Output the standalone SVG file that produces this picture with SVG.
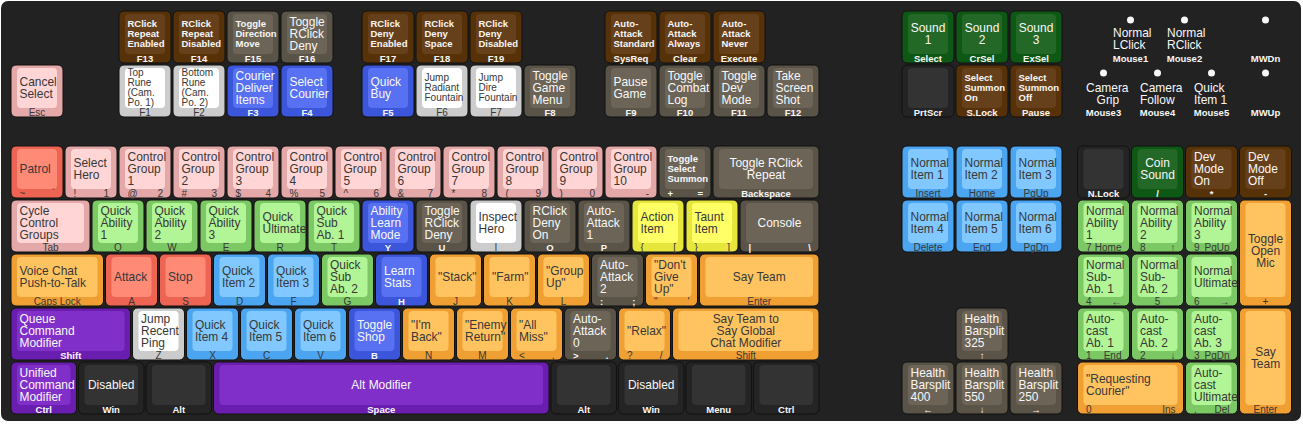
<svg xmlns="http://www.w3.org/2000/svg" width="1303" height="425" viewBox="0 0 1303 425">
<style>
text{font-family:"Liberation Sans",Arial,Helvetica,sans-serif}
.o{stroke:#111;stroke-width:1}
.a{font-size:13px}
.L{transform:translate(8.5px,0px) scale(0.92,1)}
.b{font-size:10px}
.f{font-size:10px}
.c{text-anchor:middle}
.e{text-anchor:end}
.D text{fill:#383838}
.W text{fill:#f7f7f7}
.W .b,.W .f{font-weight:bold;font-size:9.5px}
.dot{fill:#f7f7f7}
.pink .o{fill:#e5a8a8}.pink .t{fill:#ffd5d5}
.red .o{fill:#ee6452}.red .t{fill:#ff8a76}
.brown .o{fill:#573208}.brown .t{fill:#66401a}
.gb .o{fill:#5a5448}.gb .t{fill:#6c6557}
.white .o{fill:#cccccc}.white .t{fill:#ffffff}
.blue .o{fill:#3b56da}.blue .t{fill:#5870f2}
.sg .o{fill:#0c5814}.sg .t{fill:#246828}
.dark .o{fill:#242424}.dark .t{fill:#333333}
.lg .o{fill:#7cc864}.lg .t{fill:#b2f596}
.lb .o{fill:#4ba5f0}.lb .t{fill:#80c8ff}
.or .o{fill:#f0a032}.or .t{fill:#ffc460}
.ye .o{fill:#e6e63c}.ye .t{fill:#ffff66}
.pu .o{fill:#6a1eb0}.pu .t{fill:#8030c8}
</style>
<rect id="board" x="1" y="1" width="1300" height="420" rx="7" fill="#222222"/>

<!-- Row A -->
<g id="k-f13" class="brown W" transform="translate(119,11)"><rect class="o" width="52" height="52" rx="5"/><rect class="t" x="6" y="3" width="40" height="40" rx="4"/><text class="b"><tspan x="8.5" y="16">RClick</tspan><tspan x="8.5" y="26">Repeat</tspan><tspan x="8.5" y="36">Enabled</tspan></text><text class="f c" x="26" y="50.5">F13</text></g>
<g id="k-f14" class="brown W" transform="translate(173,11)"><rect class="o" width="52" height="52" rx="5"/><rect class="t" x="6" y="3" width="40" height="40" rx="4"/><text class="b"><tspan x="8.5" y="16">RClick</tspan><tspan x="8.5" y="26">Repeat</tspan><tspan x="8.5" y="36">Disabled</tspan></text><text class="f c" x="26" y="50.5">F14</text></g>
<g id="k-f15" class="gb W" transform="translate(227,11)"><rect class="o" width="52" height="52" rx="5"/><rect class="t" x="6" y="3" width="40" height="40" rx="4"/><text class="b"><tspan x="8.5" y="16">Toggle</tspan><tspan x="8.5" y="26">Direction</tspan><tspan x="8.5" y="36">Move</tspan></text><text class="f c" x="26" y="50.5">F15</text></g>
<g id="k-f16" class="gb W" transform="translate(281,11)"><rect class="o" width="52" height="52" rx="5"/><rect class="t" x="6" y="3" width="40" height="40" rx="4"/><text class="a L"><tspan x="0" y="15">Toggle</tspan><tspan x="0" y="27">RClick</tspan><tspan x="0" y="39">Deny</tspan></text><text class="f c" x="26" y="50.5">F16</text></g>
<g id="k-f17" class="brown W" transform="translate(362,11)"><rect class="o" width="52" height="52" rx="5"/><rect class="t" x="6" y="3" width="40" height="40" rx="4"/><text class="b"><tspan x="8.5" y="16">RClick</tspan><tspan x="8.5" y="26">Deny</tspan><tspan x="8.5" y="36">Enabled</tspan></text><text class="f c" x="26" y="50.5">F17</text></g>
<g id="k-f18" class="brown W" transform="translate(416,11)"><rect class="o" width="52" height="52" rx="5"/><rect class="t" x="6" y="3" width="40" height="40" rx="4"/><text class="b"><tspan x="8.5" y="16">RClick</tspan><tspan x="8.5" y="26">Deny</tspan><tspan x="8.5" y="36">Space</tspan></text><text class="f c" x="26" y="50.5">F18</text></g>
<g id="k-f19" class="brown W" transform="translate(470,11)"><rect class="o" width="52" height="52" rx="5"/><rect class="t" x="6" y="3" width="40" height="40" rx="4"/><text class="b"><tspan x="8.5" y="16">RClick</tspan><tspan x="8.5" y="26">Deny</tspan><tspan x="8.5" y="36">Disabled</tspan></text><text class="f c" x="26" y="50.5">F19</text></g>
<g id="k-sysreq" class="brown W" transform="translate(605,11)"><rect class="o" width="52" height="52" rx="5"/><rect class="t" x="6" y="3" width="40" height="40" rx="4"/><text class="b"><tspan x="8.5" y="16">Auto-</tspan><tspan x="8.5" y="26">Attack</tspan><tspan x="8.5" y="36">Standard</tspan></text><text class="f c" x="26" y="50.5">SysReq</text></g>
<g id="k-clear" class="brown W" transform="translate(659,11)"><rect class="o" width="52" height="52" rx="5"/><rect class="t" x="6" y="3" width="40" height="40" rx="4"/><text class="b"><tspan x="8.5" y="16">Auto-</tspan><tspan x="8.5" y="26">Attack</tspan><tspan x="8.5" y="36">Always</tspan></text><text class="f c" x="26" y="50.5">Clear</text></g>
<g id="k-execute" class="brown W" transform="translate(713,11)"><rect class="o" width="52" height="52" rx="5"/><rect class="t" x="6" y="3" width="40" height="40" rx="4"/><text class="b"><tspan x="8.5" y="16">Auto-</tspan><tspan x="8.5" y="26">Attack</tspan><tspan x="8.5" y="36">Never</tspan></text><text class="f c" x="26" y="50.5">Execute</text></g>
<g id="k-select" class="sg W" transform="translate(902,11)"><rect class="o" width="52" height="52" rx="5"/><rect class="t" x="6" y="3" width="40" height="40" rx="4"/><text class="a c" transform="translate(26,0) scale(0.92,1)"><tspan x="0" y="21">Sound</tspan><tspan x="0" y="33">1</tspan></text><text class="f c" x="26" y="50.5">Select</text></g>
<g id="k-crsel" class="sg W" transform="translate(956,11)"><rect class="o" width="52" height="52" rx="5"/><rect class="t" x="6" y="3" width="40" height="40" rx="4"/><text class="a c" transform="translate(26,0) scale(0.92,1)"><tspan x="0" y="21">Sound</tspan><tspan x="0" y="33">2</tspan></text><text class="f c" x="26" y="50.5">CrSel</text></g>
<g id="k-exsel" class="sg W" transform="translate(1010,11)"><rect class="o" width="52" height="52" rx="5"/><rect class="t" x="6" y="3" width="40" height="40" rx="4"/><text class="a c" transform="translate(26,0) scale(0.92,1)"><tspan x="0" y="21">Sound</tspan><tspan x="0" y="33">3</tspan></text><text class="f c" x="26" y="50.5">ExSel</text></g>
<g id="m-mouse1" class="W" transform="translate(1104.5,11)"><circle class="dot" cx="26" cy="9" r="3.5"/><text class="a L"><tspan x="0" y="26.5">Normal</tspan><tspan x="0" y="38.5">LClick</tspan></text><text class="f c" x="26" y="50.5">Mouse1</text></g>
<g id="m-mouse2" class="W" transform="translate(1158.5,11)"><circle class="dot" cx="26" cy="9" r="3.5"/><text class="a L"><tspan x="0" y="26.5">Normal</tspan><tspan x="0" y="38.5">RClick</tspan></text><text class="f c" x="26" y="50.5">Mouse2</text></g>
<g id="m-mwdn" class="W" transform="translate(1239.5,11)"><circle class="dot" cx="26" cy="9" r="3.5"/><text class="f c" x="26" y="50.5">MWDn</text></g>

<!-- Row B -->
<g id="k-esc" class="pink D" transform="translate(11,65)"><rect class="o" width="52" height="52" rx="5"/><rect class="t" x="6" y="3" width="40" height="40" rx="4"/><text class="a L"><tspan x="0" y="21">Cancel</tspan><tspan x="0" y="33">Select</tspan></text><text class="f c" x="26" y="50.5">Esc</text></g>
<g id="k-f1" class="white D" transform="translate(119,65)"><rect class="o" width="52" height="52" rx="5"/><rect class="t" x="6" y="3" width="40" height="40" rx="4"/><text class="b"><tspan x="8.5" y="11">Top</tspan><tspan x="8.5" y="21">Rune</tspan><tspan x="8.5" y="31">(Cam.</tspan><tspan x="8.5" y="41">Po. 1)</tspan></text><text class="f c" x="26" y="50.5">F1</text></g>
<g id="k-f2" class="white D" transform="translate(173,65)"><rect class="o" width="52" height="52" rx="5"/><rect class="t" x="6" y="3" width="40" height="40" rx="4"/><text class="b"><tspan x="8.5" y="11">Bottom</tspan><tspan x="8.5" y="21">Rune</tspan><tspan x="8.5" y="31">(Cam.</tspan><tspan x="8.5" y="41">Po. 2)</tspan></text><text class="f c" x="26" y="50.5">F2</text></g>
<g id="k-f3" class="blue W" transform="translate(227,65)"><rect class="o" width="52" height="52" rx="5"/><rect class="t" x="6" y="3" width="40" height="40" rx="4"/><text class="a L"><tspan x="0" y="15">Courier</tspan><tspan x="0" y="27">Deliver</tspan><tspan x="0" y="39">Items</tspan></text><text class="f c" x="26" y="50.5">F3</text></g>
<g id="k-f4" class="blue W" transform="translate(281,65)"><rect class="o" width="52" height="52" rx="5"/><rect class="t" x="6" y="3" width="40" height="40" rx="4"/><text class="a L"><tspan x="0" y="21">Select</tspan><tspan x="0" y="33">Courier</tspan></text><text class="f c" x="26" y="50.5">F4</text></g>
<g id="k-f5" class="blue W" transform="translate(362,65)"><rect class="o" width="52" height="52" rx="5"/><rect class="t" x="6" y="3" width="40" height="40" rx="4"/><text class="a L"><tspan x="0" y="21">Quick</tspan><tspan x="0" y="33">Buy</tspan></text><text class="f c" x="26" y="50.5">F5</text></g>
<g id="k-f6" class="white D" transform="translate(416,65)"><rect class="o" width="52" height="52" rx="5"/><rect class="t" x="6" y="3" width="40" height="40" rx="4"/><text class="b"><tspan x="8.5" y="16">Jump</tspan><tspan x="8.5" y="26">Radiant</tspan><tspan x="8.5" y="36">Fountain</tspan></text><text class="f c" x="26" y="50.5">F6</text></g>
<g id="k-f7" class="white D" transform="translate(470,65)"><rect class="o" width="52" height="52" rx="5"/><rect class="t" x="6" y="3" width="40" height="40" rx="4"/><text class="b"><tspan x="8.5" y="16">Jump</tspan><tspan x="8.5" y="26">Dire</tspan><tspan x="8.5" y="36">Fountain</tspan></text><text class="f c" x="26" y="50.5">F7</text></g>
<g id="k-f8" class="gb W" transform="translate(524,65)"><rect class="o" width="52" height="52" rx="5"/><rect class="t" x="6" y="3" width="40" height="40" rx="4"/><text class="a L"><tspan x="0" y="15">Toggle</tspan><tspan x="0" y="27">Game</tspan><tspan x="0" y="39">Menu</tspan></text><text class="f c" x="26" y="50.5">F8</text></g>
<g id="k-f9" class="gb W" transform="translate(605,65)"><rect class="o" width="52" height="52" rx="5"/><rect class="t" x="6" y="3" width="40" height="40" rx="4"/><text class="a L"><tspan x="0" y="21">Pause</tspan><tspan x="0" y="33">Game</tspan></text><text class="f c" x="26" y="50.5">F9</text></g>
<g id="k-f10" class="gb W" transform="translate(659,65)"><rect class="o" width="52" height="52" rx="5"/><rect class="t" x="6" y="3" width="40" height="40" rx="4"/><text class="a L"><tspan x="0" y="15">Toggle</tspan><tspan x="0" y="27">Combat</tspan><tspan x="0" y="39">Log</tspan></text><text class="f c" x="26" y="50.5">F10</text></g>
<g id="k-f11" class="gb W" transform="translate(713,65)"><rect class="o" width="52" height="52" rx="5"/><rect class="t" x="6" y="3" width="40" height="40" rx="4"/><text class="a L"><tspan x="0" y="15">Toggle</tspan><tspan x="0" y="27">Dev</tspan><tspan x="0" y="39">Mode</tspan></text><text class="f c" x="26" y="50.5">F11</text></g>
<g id="k-f12" class="gb W" transform="translate(767,65)"><rect class="o" width="52" height="52" rx="5"/><rect class="t" x="6" y="3" width="40" height="40" rx="4"/><text class="a L"><tspan x="0" y="15">Take</tspan><tspan x="0" y="27">Screen</tspan><tspan x="0" y="39">Shot</tspan></text><text class="f c" x="26" y="50.5">F12</text></g>
<g id="k-prtscr" class="dark W" transform="translate(902,65)"><rect class="o" width="52" height="52" rx="5"/><rect class="t" x="6" y="3" width="40" height="40" rx="4"/><text class="f c" x="26" y="50.5">PrtScr</text></g>
<g id="k-slock" class="brown W" transform="translate(956,65)"><rect class="o" width="52" height="52" rx="5"/><rect class="t" x="6" y="3" width="40" height="40" rx="4"/><text class="b"><tspan x="8.5" y="16">Select</tspan><tspan x="8.5" y="26">Summon</tspan><tspan x="8.5" y="36">On</tspan></text><text class="f c" x="26" y="50.5">S.Lock</text></g>
<g id="k-pause" class="brown W" transform="translate(1010,65)"><rect class="o" width="52" height="52" rx="5"/><rect class="t" x="6" y="3" width="40" height="40" rx="4"/><text class="b"><tspan x="8.5" y="16">Select</tspan><tspan x="8.5" y="26">Summon</tspan><tspan x="8.5" y="36">Off</tspan></text><text class="f c" x="26" y="50.5">Pause</text></g>
<g id="m-mouse3" class="W" transform="translate(1077.5,65)"><circle class="dot" cx="26" cy="8" r="3.5"/><text class="a L"><tspan x="0" y="26.8">Camera</tspan><tspan x="11.5" y="38.8">Grip</tspan></text><text class="f c" x="26" y="50.5">Mouse3</text></g>
<g id="m-mouse4" class="W" transform="translate(1131.5,65)"><circle class="dot" cx="26" cy="8" r="3.5"/><text class="a L"><tspan x="0" y="26.8">Camera</tspan><tspan x="0" y="38.8">Follow</tspan></text><text class="f c" x="26" y="50.5">Mouse4</text></g>
<g id="m-mouse5" class="W" transform="translate(1185.5,65)"><circle class="dot" cx="26" cy="8" r="3.5"/><text class="a L"><tspan x="0" y="26.8">Quick</tspan><tspan x="0" y="38.8">Item 1</tspan></text><text class="f c" x="26" y="50.5">Mouse5</text></g>
<g id="m-mwup" class="W" transform="translate(1239.5,65)"><circle class="dot" cx="26" cy="8" r="3.5"/><text class="f c" x="26" y="50.5">MWUp</text></g>

<!-- Row C -->
<g id="k-grave" class="red D" transform="translate(11,146)"><rect class="o" width="52" height="52" rx="5"/><rect class="t" x="6" y="3" width="40" height="40" rx="4"/><text class="a L" x="0" y="27">Patrol</text><text class="f" x="8.5" y="50.5">~</text><text class="f e" x="44" y="50.5">`</text></g>
<g id="k-1" class="pink D" transform="translate(65,146)"><rect class="o" width="52" height="52" rx="5"/><rect class="t" x="6" y="3" width="40" height="40" rx="4"/><text class="a L"><tspan x="0" y="21">Select</tspan><tspan x="0" y="33">Hero</tspan></text><text class="f" x="8.5" y="50.5">!</text><text class="f e" x="44" y="50.5">1</text></g>
<g id="k-2" class="pink D" transform="translate(119,146)"><rect class="o" width="52" height="52" rx="5"/><rect class="t" x="6" y="3" width="40" height="40" rx="4"/><text class="a L"><tspan x="0" y="15">Control</tspan><tspan x="0" y="27">Group</tspan><tspan x="0" y="39">1</tspan></text><text class="f" x="8.5" y="50.5">@</text><text class="f e" x="44" y="50.5">2</text></g>
<g id="k-3" class="pink D" transform="translate(173,146)"><rect class="o" width="52" height="52" rx="5"/><rect class="t" x="6" y="3" width="40" height="40" rx="4"/><text class="a L"><tspan x="0" y="15">Control</tspan><tspan x="0" y="27">Group</tspan><tspan x="0" y="39">2</tspan></text><text class="f" x="8.5" y="50.5">#</text><text class="f e" x="44" y="50.5">3</text></g>
<g id="k-4" class="pink D" transform="translate(227,146)"><rect class="o" width="52" height="52" rx="5"/><rect class="t" x="6" y="3" width="40" height="40" rx="4"/><text class="a L"><tspan x="0" y="15">Control</tspan><tspan x="0" y="27">Group</tspan><tspan x="0" y="39">3</tspan></text><text class="f" x="8.5" y="50.5">$</text><text class="f e" x="44" y="50.5">4</text></g>
<g id="k-5" class="pink D" transform="translate(281,146)"><rect class="o" width="52" height="52" rx="5"/><rect class="t" x="6" y="3" width="40" height="40" rx="4"/><text class="a L"><tspan x="0" y="15">Control</tspan><tspan x="0" y="27">Group</tspan><tspan x="0" y="39">4</tspan></text><text class="f" x="8.5" y="50.5">%</text><text class="f e" x="44" y="50.5">5</text></g>
<g id="k-6" class="pink D" transform="translate(335,146)"><rect class="o" width="52" height="52" rx="5"/><rect class="t" x="6" y="3" width="40" height="40" rx="4"/><text class="a L"><tspan x="0" y="15">Control</tspan><tspan x="0" y="27">Group</tspan><tspan x="0" y="39">5</tspan></text><text class="f" x="8.5" y="50.5">^</text><text class="f e" x="44" y="50.5">6</text></g>
<g id="k-7" class="pink D" transform="translate(389,146)"><rect class="o" width="52" height="52" rx="5"/><rect class="t" x="6" y="3" width="40" height="40" rx="4"/><text class="a L"><tspan x="0" y="15">Control</tspan><tspan x="0" y="27">Group</tspan><tspan x="0" y="39">6</tspan></text><text class="f" x="8.5" y="50.5">&amp;</text><text class="f e" x="44" y="50.5">7</text></g>
<g id="k-8" class="pink D" transform="translate(443,146)"><rect class="o" width="52" height="52" rx="5"/><rect class="t" x="6" y="3" width="40" height="40" rx="4"/><text class="a L"><tspan x="0" y="15">Control</tspan><tspan x="0" y="27">Group</tspan><tspan x="0" y="39">7</tspan></text><text class="f" x="8.5" y="50.5">*</text><text class="f e" x="44" y="50.5">8</text></g>
<g id="k-9" class="pink D" transform="translate(497,146)"><rect class="o" width="52" height="52" rx="5"/><rect class="t" x="6" y="3" width="40" height="40" rx="4"/><text class="a L"><tspan x="0" y="15">Control</tspan><tspan x="0" y="27">Group</tspan><tspan x="0" y="39">8</tspan></text><text class="f" x="8.5" y="50.5">(</text><text class="f e" x="44" y="50.5">9</text></g>
<g id="k-0" class="pink D" transform="translate(551,146)"><rect class="o" width="52" height="52" rx="5"/><rect class="t" x="6" y="3" width="40" height="40" rx="4"/><text class="a L"><tspan x="0" y="15">Control</tspan><tspan x="0" y="27">Group</tspan><tspan x="0" y="39">9</tspan></text><text class="f" x="8.5" y="50.5">)</text><text class="f e" x="44" y="50.5">0</text></g>
<g id="k-minus" class="pink D" transform="translate(605,146)"><rect class="o" width="52" height="52" rx="5"/><rect class="t" x="6" y="3" width="40" height="40" rx="4"/><text class="a L"><tspan x="0" y="15">Control</tspan><tspan x="0" y="27">Group</tspan><tspan x="0" y="39">10</tspan></text><text class="f e" x="44" y="50.5">-</text></g>
<g id="k-equal" class="gb W" transform="translate(659,146)"><rect class="o" width="52" height="52" rx="5"/><rect class="t" x="6" y="3" width="40" height="40" rx="4"/><text class="b"><tspan x="8.5" y="16">Toggle</tspan><tspan x="8.5" y="26">Select</tspan><tspan x="8.5" y="36">Summon</tspan></text><text class="f" x="8.5" y="50.5">+</text><text class="f e" x="44" y="50.5">=</text></g>
<g id="k-backspace" class="gb W" transform="translate(713,146)"><rect class="o" width="106" height="52" rx="5"/><rect class="t" x="6" y="3" width="94" height="40" rx="4"/><text class="a c" transform="translate(53,0) scale(0.92,1)"><tspan x="0" y="21">Toggle RClick</tspan><tspan x="0" y="33">Repeat</tspan></text><text class="f c" x="53" y="50.5">Backspace</text></g>
<g id="k-insert" class="lb D" transform="translate(902,146)"><rect class="o" width="52" height="52" rx="5"/><rect class="t" x="6" y="3" width="40" height="40" rx="4"/><text class="a L"><tspan x="0" y="21">Normal</tspan><tspan x="0" y="33">Item 1</tspan></text><text class="f c" x="26" y="50.5">Insert</text></g>
<g id="k-home" class="lb D" transform="translate(956,146)"><rect class="o" width="52" height="52" rx="5"/><rect class="t" x="6" y="3" width="40" height="40" rx="4"/><text class="a L"><tspan x="0" y="21">Normal</tspan><tspan x="0" y="33">Item 2</tspan></text><text class="f c" x="26" y="50.5">Home</text></g>
<g id="k-pgup" class="lb D" transform="translate(1010,146)"><rect class="o" width="52" height="52" rx="5"/><rect class="t" x="6" y="3" width="40" height="40" rx="4"/><text class="a L"><tspan x="0" y="21">Normal</tspan><tspan x="0" y="33">Item 3</tspan></text><text class="f c" x="26" y="50.5">PgUp</text></g>
<g id="k-numlock" class="dark W" transform="translate(1077.5,146)"><rect class="o" width="52" height="52" rx="5"/><rect class="t" x="6" y="3" width="40" height="40" rx="4"/><text class="f c" x="26" y="50.5">N.Lock</text></g>
<g id="k-kpslash" class="sg W" transform="translate(1131.5,146)"><rect class="o" width="52" height="52" rx="5"/><rect class="t" x="6" y="3" width="40" height="40" rx="4"/><text class="a c" transform="translate(26,0) scale(0.92,1)"><tspan x="0" y="21">Coin</tspan><tspan x="0" y="33">Sound</tspan></text><text class="f c" x="26" y="50.5">/</text></g>
<g id="k-kpstar" class="brown W" transform="translate(1185.5,146)"><rect class="o" width="52" height="52" rx="5"/><rect class="t" x="6" y="3" width="40" height="40" rx="4"/><text class="a L"><tspan x="0" y="15">Dev</tspan><tspan x="0" y="27">Mode</tspan><tspan x="0" y="39">On</tspan></text><text class="f c" x="26" y="50.5">*</text></g>
<g id="k-kpminus" class="brown W" transform="translate(1239.5,146)"><rect class="o" width="52" height="52" rx="5"/><rect class="t" x="6" y="3" width="40" height="40" rx="4"/><text class="a L"><tspan x="0" y="15">Dev</tspan><tspan x="0" y="27">Mode</tspan><tspan x="0" y="39">Off</tspan></text><text class="f c" x="26" y="50.5">-</text></g>

<!-- Row D -->
<g id="k-tab" class="pink D" transform="translate(11,200)"><rect class="o" width="79" height="52" rx="5"/><rect class="t" x="6" y="3" width="67" height="40" rx="4"/><text class="a L"><tspan x="0" y="15">Cycle</tspan><tspan x="0" y="27">Control</tspan><tspan x="0" y="39">Groups</tspan></text><text class="f c" x="39.5" y="50.5">Tab</text></g>
<g id="k-q" class="lg D" transform="translate(92,200)"><rect class="o" width="52" height="52" rx="5"/><rect class="t" x="6" y="3" width="40" height="40" rx="4"/><text class="a L"><tspan x="0" y="15">Quick</tspan><tspan x="0" y="27">Ability</tspan><tspan x="0" y="39">1</tspan></text><text class="f c" x="26" y="50.5">Q</text></g>
<g id="k-w" class="lg D" transform="translate(146,200)"><rect class="o" width="52" height="52" rx="5"/><rect class="t" x="6" y="3" width="40" height="40" rx="4"/><text class="a L"><tspan x="0" y="15">Quick</tspan><tspan x="0" y="27">Ability</tspan><tspan x="0" y="39">2</tspan></text><text class="f c" x="26" y="50.5">W</text></g>
<g id="k-e" class="lg D" transform="translate(200,200)"><rect class="o" width="52" height="52" rx="5"/><rect class="t" x="6" y="3" width="40" height="40" rx="4"/><text class="a L"><tspan x="0" y="15">Quick</tspan><tspan x="0" y="27">Ability</tspan><tspan x="0" y="39">3</tspan></text><text class="f c" x="26" y="50.5">E</text></g>
<g id="k-r" class="lg D" transform="translate(254,200)"><rect class="o" width="52" height="52" rx="5"/><rect class="t" x="6" y="3" width="40" height="40" rx="4"/><text class="a L"><tspan x="0" y="21">Quick</tspan><tspan x="0" y="33">Ultimate</tspan></text><text class="f c" x="26" y="50.5">R</text></g>
<g id="k-t" class="lg D" transform="translate(308,200)"><rect class="o" width="52" height="52" rx="5"/><rect class="t" x="6" y="3" width="40" height="40" rx="4"/><text class="a L"><tspan x="0" y="15">Quick</tspan><tspan x="0" y="27">Sub</tspan><tspan x="0" y="39">Ab. 1</tspan></text><text class="f c" x="26" y="50.5">T</text></g>
<g id="k-y" class="blue W" transform="translate(362,200)"><rect class="o" width="52" height="52" rx="5"/><rect class="t" x="6" y="3" width="40" height="40" rx="4"/><text class="a L"><tspan x="0" y="15">Ability</tspan><tspan x="0" y="27">Learn</tspan><tspan x="0" y="39">Mode</tspan></text><text class="f c" x="26" y="50.5">Y</text></g>
<g id="k-u" class="gb W" transform="translate(416,200)"><rect class="o" width="52" height="52" rx="5"/><rect class="t" x="6" y="3" width="40" height="40" rx="4"/><text class="a L"><tspan x="0" y="15">Toggle</tspan><tspan x="0" y="27">RClick</tspan><tspan x="0" y="39">Deny</tspan></text><text class="f c" x="26" y="50.5">U</text></g>
<g id="k-i" class="white D" transform="translate(470,200)"><rect class="o" width="52" height="52" rx="5"/><rect class="t" x="6" y="3" width="40" height="40" rx="4"/><text class="a L"><tspan x="0" y="21">Inspect</tspan><tspan x="0" y="33">Hero</tspan></text><text class="f c" x="26" y="50.5">I</text></g>
<g id="k-o" class="gb W" transform="translate(524,200)"><rect class="o" width="52" height="52" rx="5"/><rect class="t" x="6" y="3" width="40" height="40" rx="4"/><text class="a L"><tspan x="0" y="15">RClick</tspan><tspan x="0" y="27">Deny</tspan><tspan x="0" y="39">On</tspan></text><text class="f c" x="26" y="50.5">O</text></g>
<g id="k-p" class="gb W" transform="translate(578,200)"><rect class="o" width="52" height="52" rx="5"/><rect class="t" x="6" y="3" width="40" height="40" rx="4"/><text class="a L"><tspan x="0" y="15">Auto-</tspan><tspan x="0" y="27">Attack</tspan><tspan x="0" y="39">1</tspan></text><text class="f c" x="26" y="50.5">P</text></g>
<g id="k-lbracket" class="ye D" transform="translate(632,200)"><rect class="o" width="52" height="52" rx="5"/><rect class="t" x="6" y="3" width="40" height="40" rx="4"/><text class="a L"><tspan x="0" y="21">Action</tspan><tspan x="0" y="33">Item</tspan></text><text class="f" x="8.5" y="50.5">{</text><text class="f e" x="44" y="50.5">[</text></g>
<g id="k-rbracket" class="ye D" transform="translate(686,200)"><rect class="o" width="52" height="52" rx="5"/><rect class="t" x="6" y="3" width="40" height="40" rx="4"/><text class="a L"><tspan x="0" y="21">Taunt</tspan><tspan x="0" y="33">Item</tspan></text><text class="f" x="8.5" y="50.5">}</text><text class="f e" x="44" y="50.5">]</text></g>
<g id="k-backslash" class="gb W" transform="translate(740,200)"><rect class="o" width="79" height="52" rx="5"/><rect class="t" x="6" y="3" width="67" height="40" rx="4"/><text class="a c" transform="translate(39.5,0) scale(0.92,1)" x="0" y="27">Console</text><text class="f" x="8.5" y="50.5">|</text><text class="f e" x="71" y="50.5">\</text></g>
<g id="k-delete" class="lb D" transform="translate(902,200)"><rect class="o" width="52" height="52" rx="5"/><rect class="t" x="6" y="3" width="40" height="40" rx="4"/><text class="a L"><tspan x="0" y="21">Normal</tspan><tspan x="0" y="33">Item 4</tspan></text><text class="f c" x="26" y="50.5">Delete</text></g>
<g id="k-end" class="lb D" transform="translate(956,200)"><rect class="o" width="52" height="52" rx="5"/><rect class="t" x="6" y="3" width="40" height="40" rx="4"/><text class="a L"><tspan x="0" y="21">Normal</tspan><tspan x="0" y="33">Item 5</tspan></text><text class="f c" x="26" y="50.5">End</text></g>
<g id="k-pgdn" class="lb D" transform="translate(1010,200)"><rect class="o" width="52" height="52" rx="5"/><rect class="t" x="6" y="3" width="40" height="40" rx="4"/><text class="a L"><tspan x="0" y="21">Normal</tspan><tspan x="0" y="33">Item 6</tspan></text><text class="f c" x="26" y="50.5">PgDn</text></g>
<g id="k-kp7" class="lg D" transform="translate(1077.5,200)"><rect class="o" width="52" height="52" rx="5"/><rect class="t" x="6" y="3" width="40" height="40" rx="4"/><text class="a L"><tspan x="0" y="15">Normal</tspan><tspan x="0" y="27">Ability</tspan><tspan x="0" y="39">1</tspan></text><text class="f" x="8.5" y="50.5">7</text><text class="f e" x="44" y="50.5">Home</text></g>
<g id="k-kp8" class="lg D" transform="translate(1131.5,200)"><rect class="o" width="52" height="52" rx="5"/><rect class="t" x="6" y="3" width="40" height="40" rx="4"/><text class="a L"><tspan x="0" y="15">Normal</tspan><tspan x="0" y="27">Ability</tspan><tspan x="0" y="39">2</tspan></text><text class="f" x="8.5" y="50.5">8</text><text class="f e" x="44" y="50.5">↑</text></g>
<g id="k-kp9" class="lg D" transform="translate(1185.5,200)"><rect class="o" width="52" height="52" rx="5"/><rect class="t" x="6" y="3" width="40" height="40" rx="4"/><text class="a L"><tspan x="0" y="15">Normal</tspan><tspan x="0" y="27">Ability</tspan><tspan x="0" y="39">3</tspan></text><text class="f" x="8.5" y="50.5">9</text><text class="f e" x="44" y="50.5">PgUp</text></g>
<g id="k-kpplus" class="or D" transform="translate(1239.5,200)"><rect class="o" width="52" height="106" rx="5"/><rect class="t" x="6" y="3" width="40" height="94" rx="4"/><text class="a c" transform="translate(26,0) scale(0.92,1)"><tspan x="0" y="43">Toggle</tspan><tspan x="0" y="55">Open</tspan><tspan x="0" y="67">Mic</tspan></text><text class="f c" x="26" y="104.5">+</text></g>

<!-- Row E -->
<g id="k-caps" class="or D" transform="translate(11,254)"><rect class="o" width="92.5" height="52" rx="5"/><rect class="t" x="6" y="3" width="80.5" height="40" rx="4"/><text class="a L"><tspan x="0" y="21">Voice Chat</tspan><tspan x="0" y="33">Push-to-Talk</tspan></text><text class="f c" x="46.25" y="50.5">Caps Lock</text></g>
<g id="k-a" class="red D" transform="translate(105.5,254)"><rect class="o" width="52" height="52" rx="5"/><rect class="t" x="6" y="3" width="40" height="40" rx="4"/><text class="a L" x="0" y="27">Attack</text><text class="f c" x="26" y="50.5">A</text></g>
<g id="k-s" class="red D" transform="translate(159.5,254)"><rect class="o" width="52" height="52" rx="5"/><rect class="t" x="6" y="3" width="40" height="40" rx="4"/><text class="a L" x="0" y="27">Stop</text><text class="f c" x="26" y="50.5">S</text></g>
<g id="k-d" class="lb D" transform="translate(213.5,254)"><rect class="o" width="52" height="52" rx="5"/><rect class="t" x="6" y="3" width="40" height="40" rx="4"/><text class="a L"><tspan x="0" y="21">Quick</tspan><tspan x="0" y="33">Item 2</tspan></text><text class="f c" x="26" y="50.5">D</text></g>
<g id="k-f" class="lb D" transform="translate(267.5,254)"><rect class="o" width="52" height="52" rx="5"/><rect class="t" x="6" y="3" width="40" height="40" rx="4"/><text class="a L"><tspan x="0" y="21">Quick</tspan><tspan x="0" y="33">Item 3</tspan></text><text class="f c" x="26" y="50.5">F</text></g>
<g id="k-g" class="lg D" transform="translate(321.5,254)"><rect class="o" width="52" height="52" rx="5"/><rect class="t" x="6" y="3" width="40" height="40" rx="4"/><text class="a L"><tspan x="0" y="15">Quick</tspan><tspan x="0" y="27">Sub</tspan><tspan x="0" y="39">Ab. 2</tspan></text><text class="f c" x="26" y="50.5">G</text></g>
<g id="k-h" class="blue W" transform="translate(375.5,254)"><rect class="o" width="52" height="52" rx="5"/><rect class="t" x="6" y="3" width="40" height="40" rx="4"/><text class="a L"><tspan x="0" y="21">Learn</tspan><tspan x="0" y="33">Stats</tspan></text><text class="f c" x="26" y="50.5">H</text></g>
<g id="k-j" class="or D" transform="translate(429.5,254)"><rect class="o" width="52" height="52" rx="5"/><rect class="t" x="6" y="3" width="40" height="40" rx="4"/><text class="a L" x="0" y="27">"Stack"</text><text class="f c" x="26" y="50.5">J</text></g>
<g id="k-k" class="or D" transform="translate(483.5,254)"><rect class="o" width="52" height="52" rx="5"/><rect class="t" x="6" y="3" width="40" height="40" rx="4"/><text class="a L" x="0" y="27">"Farm"</text><text class="f c" x="26" y="50.5">K</text></g>
<g id="k-l" class="or D" transform="translate(537.5,254)"><rect class="o" width="52" height="52" rx="5"/><rect class="t" x="6" y="3" width="40" height="40" rx="4"/><text class="a L"><tspan x="0" y="21">"Group</tspan><tspan x="0" y="33">Up"</tspan></text><text class="f c" x="26" y="50.5">L</text></g>
<g id="k-semicolon" class="gb W" transform="translate(591.5,254)"><rect class="o" width="52" height="52" rx="5"/><rect class="t" x="6" y="3" width="40" height="40" rx="4"/><text class="a L"><tspan x="0" y="15">Auto-</tspan><tspan x="0" y="27">Attack</tspan><tspan x="0" y="39">2</tspan></text><text class="f" x="8.5" y="50.5">:</text><text class="f e" x="44" y="50.5">;</text></g>
<g id="k-quote" class="or D" transform="translate(645.5,254)"><rect class="o" width="52" height="52" rx="5"/><rect class="t" x="6" y="3" width="40" height="40" rx="4"/><text class="a L"><tspan x="0" y="15">"Don't</tspan><tspan x="0" y="27">Give</tspan><tspan x="0" y="39">Up"</tspan></text><text class="f" x="8.5" y="50.5">"</text><text class="f e" x="44" y="50.5">'</text></g>
<g id="k-enter" class="or D" transform="translate(699.5,254)"><rect class="o" width="119.5" height="52" rx="5"/><rect class="t" x="6" y="3" width="107.5" height="40" rx="4"/><text class="a c" transform="translate(59.75,0) scale(0.92,1)" x="0" y="27">Say Team</text><text class="f c" x="59.75" y="50.5">Enter</text></g>
<g id="k-kp4" class="lg D" transform="translate(1077.5,254)"><rect class="o" width="52" height="52" rx="5"/><rect class="t" x="6" y="3" width="40" height="40" rx="4"/><text class="a L"><tspan x="0" y="15">Normal</tspan><tspan x="0" y="27">Sub-</tspan><tspan x="0" y="39">Ab. 1</tspan></text><text class="f" x="8.5" y="50.5">4</text><text class="f e" x="44" y="50.5">←</text></g>
<g id="k-kp5" class="lg D" transform="translate(1131.5,254)"><rect class="o" width="52" height="52" rx="5"/><rect class="t" x="6" y="3" width="40" height="40" rx="4"/><text class="a L"><tspan x="0" y="15">Normal</tspan><tspan x="0" y="27">Sub-</tspan><tspan x="0" y="39">Ab. 2</tspan></text><text class="f c" x="26" y="50.5">5</text></g>
<g id="k-kp6" class="lg D" transform="translate(1185.5,254)"><rect class="o" width="52" height="52" rx="5"/><rect class="t" x="6" y="3" width="40" height="40" rx="4"/><text class="a L"><tspan x="0" y="21">Normal</tspan><tspan x="0" y="33">Ultimate</tspan></text><text class="f" x="8.5" y="50.5">6</text><text class="f e" x="44" y="50.5">→</text></g>

<!-- Row F -->
<g id="k-lshift" class="pu W" transform="translate(11,308)"><rect class="o" width="119.5" height="52" rx="5"/><rect class="t" x="6" y="3" width="107.5" height="40" rx="4"/><text class="a L"><tspan x="0" y="15">Queue</tspan><tspan x="0" y="27">Command</tspan><tspan x="0" y="39">Modifier</tspan></text><text class="f c" x="59.75" y="50.5">Shift</text></g>
<g id="k-z" class="white D" transform="translate(132.5,308)"><rect class="o" width="52" height="52" rx="5"/><rect class="t" x="6" y="3" width="40" height="40" rx="4"/><text class="a L"><tspan x="0" y="15">Jump</tspan><tspan x="0" y="27">Recent</tspan><tspan x="0" y="39">Ping</tspan></text><text class="f c" x="26" y="50.5">Z</text></g>
<g id="k-x" class="lb D" transform="translate(186.5,308)"><rect class="o" width="52" height="52" rx="5"/><rect class="t" x="6" y="3" width="40" height="40" rx="4"/><text class="a L"><tspan x="0" y="21">Quick</tspan><tspan x="0" y="33">Item 4</tspan></text><text class="f c" x="26" y="50.5">X</text></g>
<g id="k-c" class="lb D" transform="translate(240.5,308)"><rect class="o" width="52" height="52" rx="5"/><rect class="t" x="6" y="3" width="40" height="40" rx="4"/><text class="a L"><tspan x="0" y="21">Quick</tspan><tspan x="0" y="33">Item 5</tspan></text><text class="f c" x="26" y="50.5">C</text></g>
<g id="k-v" class="lb D" transform="translate(294.5,308)"><rect class="o" width="52" height="52" rx="5"/><rect class="t" x="6" y="3" width="40" height="40" rx="4"/><text class="a L"><tspan x="0" y="21">Quick</tspan><tspan x="0" y="33">Item 6</tspan></text><text class="f c" x="26" y="50.5">V</text></g>
<g id="k-b" class="blue W" transform="translate(348.5,308)"><rect class="o" width="52" height="52" rx="5"/><rect class="t" x="6" y="3" width="40" height="40" rx="4"/><text class="a L"><tspan x="0" y="21">Toggle</tspan><tspan x="0" y="33">Shop</tspan></text><text class="f c" x="26" y="50.5">B</text></g>
<g id="k-n" class="or D" transform="translate(402.5,308)"><rect class="o" width="52" height="52" rx="5"/><rect class="t" x="6" y="3" width="40" height="40" rx="4"/><text class="a L"><tspan x="0" y="21">"I'm</tspan><tspan x="0" y="33">Back"</tspan></text><text class="f c" x="26" y="50.5">N</text></g>
<g id="k-m" class="or D" transform="translate(456.5,308)"><rect class="o" width="52" height="52" rx="5"/><rect class="t" x="6" y="3" width="40" height="40" rx="4"/><text class="a L"><tspan x="0" y="21">"Enemy</tspan><tspan x="0" y="33">Return"</tspan></text><text class="f c" x="26" y="50.5">M</text></g>
<g id="k-comma" class="or D" transform="translate(510.5,308)"><rect class="o" width="52" height="52" rx="5"/><rect class="t" x="6" y="3" width="40" height="40" rx="4"/><text class="a L"><tspan x="0" y="21">"All</tspan><tspan x="0" y="33">Miss"</tspan></text><text class="f" x="8.5" y="50.5">&lt;</text><text class="f e" x="44" y="50.5">,</text></g>
<g id="k-period" class="gb W" transform="translate(564.5,308)"><rect class="o" width="52" height="52" rx="5"/><rect class="t" x="6" y="3" width="40" height="40" rx="4"/><text class="a L"><tspan x="0" y="15">Auto-</tspan><tspan x="0" y="27">Attack</tspan><tspan x="0" y="39">0</tspan></text><text class="f" x="8.5" y="50.5">&gt;</text><text class="f e" x="44" y="50.5">.</text></g>
<g id="k-slash" class="or D" transform="translate(618.5,308)"><rect class="o" width="52" height="52" rx="5"/><rect class="t" x="6" y="3" width="40" height="40" rx="4"/><text class="a L" x="0" y="27">"Relax"</text><text class="f" x="8.5" y="50.5">?</text><text class="f e" x="44" y="50.5">/</text></g>
<g id="k-rshift" class="or D" transform="translate(672.5,308)"><rect class="o" width="146.5" height="52" rx="5"/><rect class="t" x="6" y="3" width="134.5" height="40" rx="4"/><text class="a c" transform="translate(73.25,0) scale(0.92,1)"><tspan x="0" y="15">Say Team to</tspan><tspan x="0" y="27">Say Global</tspan><tspan x="0" y="39">Chat Modifier</tspan></text><text class="f c" x="73.25" y="50.5">Shift</text></g>
<g id="k-up" class="gb W" transform="translate(956,308)"><rect class="o" width="52" height="52" rx="5"/><rect class="t" x="6" y="3" width="40" height="40" rx="4"/><text class="a L"><tspan x="0" y="15">Health</tspan><tspan x="0" y="27">Barsplit</tspan><tspan x="0" y="39">325</tspan></text><text class="f c" x="26" y="50.5">↑</text></g>
<g id="k-kp1" class="lg D" transform="translate(1077.5,308)"><rect class="o" width="52" height="52" rx="5"/><rect class="t" x="6" y="3" width="40" height="40" rx="4"/><text class="a L"><tspan x="0" y="15">Auto-</tspan><tspan x="0" y="27">cast</tspan><tspan x="0" y="39">Ab. 1</tspan></text><text class="f" x="8.5" y="50.5">1</text><text class="f e" x="44" y="50.5">End</text></g>
<g id="k-kp2" class="lg D" transform="translate(1131.5,308)"><rect class="o" width="52" height="52" rx="5"/><rect class="t" x="6" y="3" width="40" height="40" rx="4"/><text class="a L"><tspan x="0" y="15">Auto-</tspan><tspan x="0" y="27">cast</tspan><tspan x="0" y="39">Ab. 2</tspan></text><text class="f" x="8.5" y="50.5">2</text><text class="f e" x="44" y="50.5">↓</text></g>
<g id="k-kp3" class="lg D" transform="translate(1185.5,308)"><rect class="o" width="52" height="52" rx="5"/><rect class="t" x="6" y="3" width="40" height="40" rx="4"/><text class="a L"><tspan x="0" y="15">Auto-</tspan><tspan x="0" y="27">cast</tspan><tspan x="0" y="39">Ab. 3</tspan></text><text class="f" x="8.5" y="50.5">3</text><text class="f e" x="44" y="50.5">PgDn</text></g>
<g id="k-kpenter" class="or D" transform="translate(1239.5,308)"><rect class="o" width="52" height="106" rx="5"/><rect class="t" x="6" y="3" width="40" height="94" rx="4"/><text class="a c" transform="translate(26,0) scale(0.92,1)"><tspan x="0" y="48">Say</tspan><tspan x="0" y="60">Team</tspan></text><text class="f c" x="26" y="104.5">Enter</text></g>

<!-- Row G -->
<g id="k-lctrl" class="pu W" transform="translate(11,362)"><rect class="o" width="65.5" height="52" rx="5"/><rect class="t" x="6" y="3" width="53.5" height="40" rx="4"/><text class="a L"><tspan x="0" y="15">Unified</tspan><tspan x="0" y="27">Command</tspan><tspan x="0" y="39">Modifier</tspan></text><text class="f c" x="32.75" y="50.5">Ctrl</text></g>
<g id="k-lwin" class="dark W" transform="translate(78.5,362)"><rect class="o" width="65.5" height="52" rx="5"/><rect class="t" x="6" y="3" width="53.5" height="40" rx="4"/><text class="a c" transform="translate(32.75,0) scale(0.92,1)" x="0" y="27">Disabled</text><text class="f c" x="32.75" y="50.5">Win</text></g>
<g id="k-lalt" class="dark W" transform="translate(146,362)"><rect class="o" width="65.5" height="52" rx="5"/><rect class="t" x="6" y="3" width="53.5" height="40" rx="4"/><text class="f c" x="32.75" y="50.5">Alt</text></g>
<g id="k-space" class="pu W" transform="translate(213.5,362)"><rect class="o" width="335.5" height="52" rx="5"/><rect class="t" x="6" y="3" width="323.5" height="40" rx="4"/><text class="a c" transform="translate(167.75,0) scale(0.92,1)" x="0" y="27">Alt Modifier</text><text class="f c" x="167.75" y="50.5">Space</text></g>
<g id="k-ralt" class="dark W" transform="translate(551,362)"><rect class="o" width="65.5" height="52" rx="5"/><rect class="t" x="6" y="3" width="53.5" height="40" rx="4"/><text class="f c" x="32.75" y="50.5">Alt</text></g>
<g id="k-rwin" class="dark W" transform="translate(618.5,362)"><rect class="o" width="65.5" height="52" rx="5"/><rect class="t" x="6" y="3" width="53.5" height="40" rx="4"/><text class="a c" transform="translate(32.75,0) scale(0.92,1)" x="0" y="27">Disabled</text><text class="f c" x="32.75" y="50.5">Win</text></g>
<g id="k-menu" class="dark W" transform="translate(686,362)"><rect class="o" width="65.5" height="52" rx="5"/><rect class="t" x="6" y="3" width="53.5" height="40" rx="4"/><text class="f c" x="32.75" y="50.5">Menu</text></g>
<g id="k-rctrl" class="dark W" transform="translate(753.5,362)"><rect class="o" width="65.5" height="52" rx="5"/><rect class="t" x="6" y="3" width="53.5" height="40" rx="4"/><text class="f c" x="32.75" y="50.5">Ctrl</text></g>
<g id="k-left" class="gb W" transform="translate(902,362)"><rect class="o" width="52" height="52" rx="5"/><rect class="t" x="6" y="3" width="40" height="40" rx="4"/><text class="a L"><tspan x="0" y="15">Health</tspan><tspan x="0" y="27">Barsplit</tspan><tspan x="0" y="39">400</tspan></text><text class="f c" x="26" y="50.5">←</text></g>
<g id="k-down" class="gb W" transform="translate(956,362)"><rect class="o" width="52" height="52" rx="5"/><rect class="t" x="6" y="3" width="40" height="40" rx="4"/><text class="a L"><tspan x="0" y="15">Health</tspan><tspan x="0" y="27">Barsplit</tspan><tspan x="0" y="39">550</tspan></text><text class="f c" x="26" y="50.5">↓</text></g>
<g id="k-right" class="gb W" transform="translate(1010,362)"><rect class="o" width="52" height="52" rx="5"/><rect class="t" x="6" y="3" width="40" height="40" rx="4"/><text class="a L"><tspan x="0" y="15">Health</tspan><tspan x="0" y="27">Barsplit</tspan><tspan x="0" y="39">250</tspan></text><text class="f c" x="26" y="50.5">→</text></g>
<g id="k-kp0" class="or D" transform="translate(1077.5,362)"><rect class="o" width="106" height="52" rx="5"/><rect class="t" x="6" y="3" width="94" height="40" rx="4"/><text class="a L"><tspan x="0" y="21">"Requesting</tspan><tspan x="0" y="33">Courier"</tspan></text><text class="f" x="8.5" y="50.5">0</text><text class="f e" x="98" y="50.5">Ins</text></g>
<g id="k-kpdot" class="lg D" transform="translate(1185.5,362)"><rect class="o" width="52" height="52" rx="5"/><rect class="t" x="6" y="3" width="40" height="40" rx="4"/><text class="a L"><tspan x="0" y="15">Auto-</tspan><tspan x="0" y="27">cast</tspan><tspan x="0" y="39">Ultimate</tspan></text><text class="f" x="8.5" y="50.5">.</text><text class="f e" x="44" y="50.5">Del</text></g>

<g id="connectors"/>
</svg>
